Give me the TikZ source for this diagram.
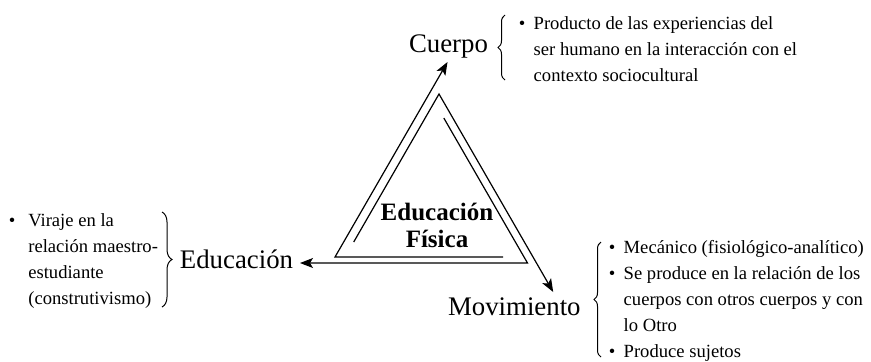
\documentclass[tikz,border=0pt]{standalone}
\usepackage{fontspec}
\setmainfont{Liberation Serif}
\usetikzlibrary{arrows.meta}
\usetikzlibrary{decorations.pathreplacing}

\tikzset{
  arr/.style={line width=0.6pt,-{Stealth[length=6.5pt,width=5pt,inset=1.5pt]}},
  brc/.style={line width=0.5pt,decorate,decoration={brace,amplitude=#1}},
  big/.style={font=\fontsize{13.4}{16}\selectfont,inner sep=0pt},
  blist/.style={font=\fontsize{9.3}{13}\selectfont,inner sep=0pt,anchor=base west},
}
\newcommand{\blt}{\textbullet}

\begin{document}
\begin{tikzpicture}[x=0.5pt,y=-0.5pt]
  \useasboundingbox (0,0) rectangle (871,361);
  % the three labels
  \node[big,anchor=base] (cuerpo) at (448.5,52) {Cuerpo};
  \node[big,anchor=base] (educ) at (236.5,268) {Educación};
  \node[big,anchor=base east] (movim) at (581,315) {Movimiento};
  \node[font=\fontsize{12.5}{13.5}\selectfont\bfseries,align=center,inner sep=0pt] (ef) at (437,225) {Educación\\Física};
  % triangle corners and tips
  \coordinate (a1) at (503,257);
  \coordinate (a2) at (335,257);
  \coordinate (cuerpoTip) at (447.5,62);
  \coordinate (b1) at (353.7,242);
  \coordinate (b2) at (439,94);
  \coordinate (movimTip) at (553.2,292);
  \coordinate (c1) at (443.8,118);
  \coordinate (c2) at (527.5,263);
  \coordinate (educTip) at (300,263);
  \draw[arr] (a1) -- (a2) -- (cuerpoTip);
  \draw[arr] (b1) -- (b2) -- (movimTip);
  \draw[arr] (c1) -- (c2) -- (educTip);
  % lists
  \node[blist] (cuerpoTxt) at (518.4,29) {\begin{tabular}[t]{@{}l@{\hspace{4.2pt}}l@{}}
    \blt & Producto de las experiencias del\\
         & ser humano en la interacción con el\\
         & contexto sociocultural
  \end{tabular}};
  \node[blist] (educTxt) at (8.4,226) {\begin{tabular}[t]{@{}l@{\hspace{6.5pt}}l@{}}
    \blt & Viraje en la\\
         & relación maestro-\\
         & estudiante\\
         & (construtivismo)
  \end{tabular}};
  \node[blist] (movimTxt) at (608.4,253) {\begin{tabular}[t]{@{}l@{\hspace{4.2pt}}l@{}}
    \blt & Mecánico (fisiológico-analítico)\\
    \blt & Se produce en la relación de los\\
         & cuerpos con otros cuerpos y con\\
         & lo Otro\\
    \blt & Produce sujetos
  \end{tabular}};
  % braces
  \draw[brc=3.5pt] (505,80) -- (505,15);
  \draw[brc=5pt] (162,212) -- (162,307);
  \draw[brc=3.5pt] (601,357) -- (601,242);
\end{tikzpicture}
\end{document}
